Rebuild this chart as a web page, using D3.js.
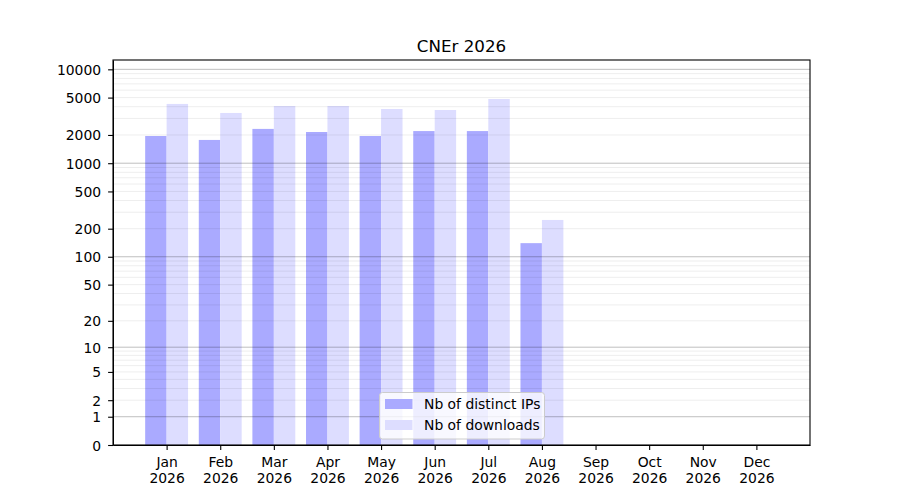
<!DOCTYPE html>
<html>
<head>
<meta charset="utf-8">
<script src="https://cdn.jsdelivr.net/npm/d3@7"></script>
<style>
  body { margin: 0; background: #fff; }
  svg { font-family: "DejaVu Sans", sans-serif; }
</style>
</head>
<body>
<svg id="chart"></svg>
<script>
// data
const months = ["Jan", "Feb", "Mar", "Apr", "May", "Jun", "Jul", "Aug", "Sep", "Oct", "Nov", "Dec"];
const year = "2026";
const distinctIPs = [1950, 1770, 2320, 2150, 1950, 2200, 2200, 140, 0, 0, 0, 0];
const downloads = [4280, 3430, 4070, 4070, 3780, 3690, 4830, 248, 0, 0, 0, 0];
const yTicks = [0, 1, 2, 5, 10, 20, 50, 100, 200, 500, 1000, 2000, 5000, 10000];
const seriesNames = ["Nb of distinct IPs", "Nb of downloads"];
const seriesColors = ["#aaaaff", "#ddddff"];

class BarChartMonthly {
  constructor(_config) {
    this.config = {
      parentElement: _config.parentElement,
      containerWidth: _config.containerWidth || 900,
      containerHeight: _config.containerHeight || 500,
      margin: _config.margin || {top: 60, right: 90, bottom: 55, left: 113}
    };
    this.initVis();
  }

  initVis() {
    let vis = this;
    vis.width = vis.config.containerWidth - vis.config.margin.left - vis.config.margin.right;
    vis.height = vis.config.containerHeight - vis.config.margin.top - vis.config.margin.bottom;

    // month index on a plain linear scale, one unit per month
    vis.xScale = d3.scaleLinear()
      .domain([-1, 12])
      .range([0, vis.width]);
    vis.barWidth = vis.xScale(0.4) - vis.xScale(0);

    vis.yScale = d3.scaleSymlog()
      .constant(1)
      .domain([0, 12570])
      .range([vis.height, 0]);

    vis.svg = d3.select(vis.config.parentElement)
      .attr('width', vis.config.containerWidth)
      .attr('height', vis.config.containerHeight);

    vis.chart = vis.svg.append('g')
      .attr('transform', `translate(${vis.config.margin.left},${vis.config.margin.top})`);

    vis.svg.append('text')
      .attr('x', vis.config.margin.left + vis.width / 2)
      .attr('y', vis.config.margin.top - 8)
      .attr('text-anchor', 'middle')
      .attr('font-size', '16.7px')
      .text(`CNEr ${year}`);

    vis.renderVis();
  }

  renderVis() {
    let vis = this;

    // bars, IPs left of the month tick, downloads right of it
    const series = [distinctIPs, downloads];
    series.forEach((vals, s) => {
      vis.chart.append('g').selectAll('rect')
        .data(vals.map((v, i) => ({i, v})).filter(d => d.v > 0))
        .enter()
        .append('rect')
          .attr('x', d => vis.xScale(d.i) + (s === 0 ? -vis.barWidth : 0))
          .attr('width', vis.barWidth)
          .attr('y', d => vis.yScale(d.v))
          .attr('height', d => vis.height - vis.yScale(d.v))
          .attr('fill', seriesColors[s]);
    });

    // grid on top of the bars: majors at powers of ten, minors in between
    let minor = [];
    for (let p = 1; p <= 1000; p *= 10) {
      for (let m = 2; m <= 9; m++) minor.push(m * p);
    }
    let major = [1, 10, 100, 1000, 10000];
    vis.chart.append('g').selectAll('line')
      .data(minor)
      .enter().append('line')
        .attr('x1', 0).attr('x2', vis.width)
        .attr('y1', d => vis.yScale(d)).attr('y2', d => vis.yScale(d))
        .attr('stroke', '#000').attr('stroke-opacity', 0.07).attr('stroke-width', 1);
    vis.chart.append('g').selectAll('line')
      .data(major)
      .enter().append('line')
        .attr('x1', 0).attr('x2', vis.width)
        .attr('y1', d => vis.yScale(d)).attr('y2', d => vis.yScale(d))
        .attr('stroke', '#000').attr('stroke-opacity', 0.25).attr('stroke-width', 1);

    // axes
    vis.yAxis = d3.axisLeft(vis.yScale)
      .tickValues(yTicks)
      .tickFormat(d3.format('d'))
      .tickSize(4.9)
      .tickSizeOuter(0)
      .tickPadding(7);
    let yg = vis.chart.append('g').attr('class', 'axis y-axis').call(vis.yAxis);
    yg.attr('font-family', '"DejaVu Sans", sans-serif').attr('font-size', 13.9);
    yg.selectAll('text').attr('dy', '0.36em').attr('fill', '#000');
    yg.selectAll('line').attr('stroke', '#000').attr('stroke-width', 1.1);

    vis.xAxis = d3.axisBottom(vis.xScale)
      .tickValues(d3.range(months.length))
      .tickFormat('')
      .tickSize(4.9)
      .tickSizeOuter(0);
    let xg = vis.chart.append('g')
      .attr('class', 'axis x-axis')
      .attr('transform', `translate(0,${vis.height})`)
      .call(vis.xAxis);
    xg.attr('font-family', '"DejaVu Sans", sans-serif').attr('font-size', 13.9);
    xg.selectAll('line').attr('stroke', '#000').attr('stroke-width', 1.1);
    xg.selectAll('.tick text').remove();
    xg.selectAll('.tick').append('text')
      .attr('text-anchor', 'middle')
      .attr('fill', '#000')
      .selectAll('tspan')
      .data(i => [months[i], year])
      .enter().append('tspan')
        .attr('x', 0)
        .attr('y', (d, k) => 22 + k * 15.5)
        .text(d => d);

    // frame
    vis.chart.append('rect')
      .attr('width', vis.width)
      .attr('height', vis.height)
      .attr('fill', 'none')
      .attr('stroke', '#000')
      .attr('stroke-width', 1.1);

    // legend, lower center
    let lg = vis.chart.append('g')
      .attr('transform', `translate(${vis.width / 2 - 82},${vis.height - 52.5})`);
    lg.append('rect')
      .attr('width', 165).attr('height', 46.5)
      .attr('rx', 3)
      .attr('fill', '#fff').attr('fill-opacity', 0.8)
      .attr('stroke', '#cccccc').attr('stroke-width', 1);
    seriesNames.forEach((name, s) => {
      lg.append('rect')
        .attr('x', 5.5).attr('y', 6.5 + s * 21)
        .attr('width', 27.5).attr('height', 10)
        .attr('fill', seriesColors[s]);
      lg.append('text')
        .attr('x', 44.5).attr('y', 16 + s * 21)
        .attr('font-size', '13.9px')
        .text(name);
    });
  }
}

new BarChartMonthly({parentElement: '#chart'});
</script>
</body>
</html>
